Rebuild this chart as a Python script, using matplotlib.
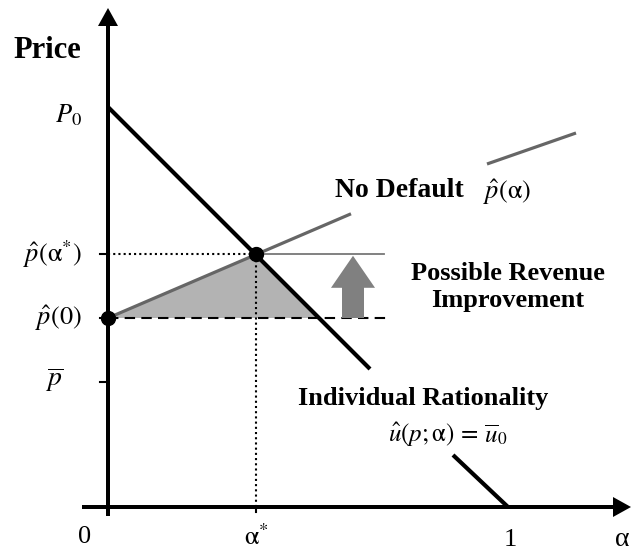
import matplotlib
matplotlib.use("Agg")
import matplotlib.pyplot as plt
from matplotlib.patches import FancyArrow, Polygon

plt.rcParams['mathtext.fontset'] = 'stix'
plt.rcParams['font.family'] = ['Liberation Serif', 'DejaVu Serif']

# ---- data (alpha on x, price on y; schematic units) ----
P0 = 1.0
alpha_star = 0.37
p_hat_star = 0.632
p_hat_0 = 0.4725
p_bar = 0.3125

# Individual rationality line (two visible pieces)
ir1_alpha = [0.0, 0.655]
ir1_price = [1.0, 0.345]
ir2_alpha = [0.8625, 1.0]
ir2_price = [0.13, 0.0]

# No default curve p_hat(alpha) (two visible pieces)
nd1_alpha = [0.0, 0.6075]
nd1_price = [0.4725, 0.733]
nd2_alpha = [0.9475, 1.17]
nd2_price = [0.8575, 0.935]

# shaded region vertices
shade_alpha = [0.0, 0.37, 0.5275]
shade_price = [0.4725, 0.632, 0.4725]

# line extents
ref_line_end = 0.69     # thin grey line at p_hat(alpha*)
dash_line_end = 0.695   # dashed line at p_hat(0)
arrow_alpha = 0.6125    # revenue improvement arrow position

fig = plt.figure(figsize=(6.31, 5.51), dpi=100)
ax = fig.add_axes([0, 0, 1, 1])
ax.set_xlim(-0.27, 1.3075)
ax.set_ylim(-0.11, 1.2675)
ax.axis('off')

# axes with arrows
ax.add_patch(FancyArrow(0, -0.0225, 0, 1.27, width=0.01, head_width=0.05,
                        head_length=0.045, length_includes_head=True,
                        color='black', lw=0))
ax.add_patch(FancyArrow(-0.065, 0, 1.3725, 0, width=0.01, head_width=0.05,
                        head_length=0.045, length_includes_head=True,
                        color='black', lw=0))

# ticks
for yv in [p_hat_star, p_hat_0, p_bar]:
    ax.plot([-0.02, 0], [yv, yv], color='black', lw=1.5)
ax.plot([alpha_star, alpha_star], [0, -0.012], color='black', lw=1.5)

# shaded triangle
ax.add_patch(Polygon(list(zip(shade_alpha, shade_price)), closed=True,
                     facecolor='#b3b3b3', edgecolor='none', zorder=1))

# dotted guides
ax.plot([0, alpha_star], [p_hat_star, p_hat_star], color='black', lw=1.5,
        ls=(0, (1, 1.5)), zorder=2)
ax.plot([alpha_star, alpha_star], [0, p_hat_star], color='black', lw=1.5,
        ls=(0, (1, 1.5)), zorder=2)

# dashed line at p_hat(0)
ax.plot([0, dash_line_end], [p_hat_0, p_hat_0], color='black', lw=1.5,
        ls=(0, (5, 3)), zorder=2)

# thin grey reference line at p_hat(alpha*)
ax.plot([alpha_star, ref_line_end], [p_hat_star, p_hat_star], color='#777777',
        lw=1.3, zorder=2)

# no default curve
ax.plot(nd1_alpha, nd1_price, color='#666666', lw=2.3, zorder=3,
        solid_capstyle='butt')
ax.plot(nd2_alpha, nd2_price, color='#666666', lw=2.3, zorder=3,
        solid_capstyle='butt')

# individual rationality line
ax.plot(ir1_alpha, ir1_price, color='black', lw=3, zorder=4,
        solid_capstyle='butt')
ax.plot(ir2_alpha, ir2_price, color='black', lw=3, zorder=4,
        solid_capstyle='butt')

# points
ax.plot([0, alpha_star], [p_hat_0, p_hat_star], 'o', color='black', ms=10,
        zorder=5)

# revenue improvement arrow
ax.add_patch(FancyArrow(arrow_alpha, p_hat_0, 0, p_hat_star - p_hat_0 - 0.004,
                        width=0.055, head_width=0.11, head_length=0.08,
                        length_includes_head=True, color='#808080', lw=0,
                        zorder=3))

# texts
ax.text(-0.1525, 1.1425, 'Price', fontsize=22, fontweight='bold',
        ha='center', va='center')
ax.text(-0.065, 0.98, r'$P_{0}$', fontsize=19, ha='right', va='center')
ax.text(-0.065, p_hat_star, r'$\hat{p}(\mathrm{α}^{*})$', fontsize=19,
        ha='right', va='center')
ax.text(-0.065, p_hat_0, r'$\hat{p}(0)$', fontsize=19, ha='right', va='center')
ax.text(-0.135, p_bar + 0.005, r'$\overline{p}$', fontsize=20, ha='center',
        va='center')

ax.text(-0.0575, -0.075, '0', fontsize=19, ha='center', va='center')
ax.text(alpha_star, -0.075, r'$\mathrm{α}^{*}$', fontsize=19, ha='center',
        va='center')
ax.text(1.005, -0.082, '1', fontsize=19, ha='center', va='center')
ax.text(1.305, -0.082, 'α', fontsize=20, ha='right', va='center')

ax.text(0.5675, 0.7925, 'No Default', fontsize=20, fontweight='bold',
        ha='left', va='center')
ax.text(0.9375, 0.7875, r'$\hat{p}(\mathrm{α})$', fontsize=19, ha='left',
        va='center')

ax.text(1.0, 0.55, 'Possible Revenue\nImprovement', fontsize=19,
        fontweight='bold', ha='center', va='center', linespacing=1.2)

ax.text(0.475, 0.2725, 'Individual Rationality', fontsize=19,
        fontweight='bold', ha='left', va='center')
ax.text(0.7, 0.18, r'$\hat{u}(p;\mathrm{α})\,=\,\overline{u}_{0}$', fontsize=18,
        ha='left', va='center')

fig.savefig('out.png', dpi=100)
